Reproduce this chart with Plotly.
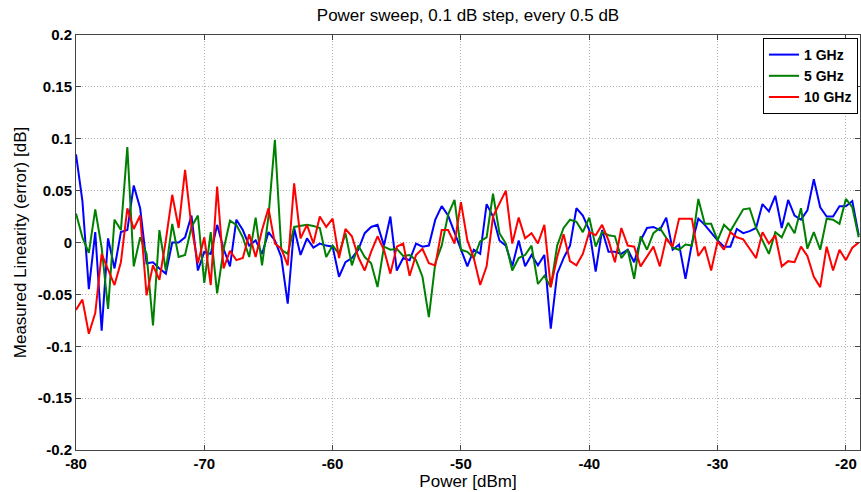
import plotly.graph_objects as go

power = [-80 + 0.5 * i for i in range(123)]

lin_1ghz = [
    0.085, 0.04, -0.045, 0.01, -0.085, 0.004, -0.025, 0.01, 0.012, 0.055,
    0.033, -0.02, -0.019, -0.025, -0.03, 0.0, 0.0, 0.005, 0.026, -0.027,
    -0.009, -0.011, 0.017, -0.006, -0.023, 0.022, 0.012, -0.003, 0.002, -0.011,
    0.01, 0.002, -0.014, -0.059, 0.014, -0.012, 0.004, -0.005, -0.001, -0.003,
    -0.004, -0.033, -0.019, -0.015, -0.007, 0.009, 0.015, 0.017, -0.003, 0.025,
    -0.027, -0.015, -0.017, -0.001, -0.004, -0.003, 0.022, 0.035, 0.026, 0.01,
    -0.007, -0.023, -0.007, -0.011, 0.037, 0.025, 0.002, -0.003, -0.023, 0.002,
    -0.023, -0.012, -0.022, -0.012, -0.083, -0.03, -0.015, -0.003, 0.033, 0.026,
    0.012, -0.028, 0.012, -0.009, -0.009, -0.011, -0.007, -0.019, 0.002, 0.014,
    0.015, 0.012, 0.024, -0.007, -0.002, -0.035, -0.001, 0.023, 0.017, 0.009,
    0.002, -0.004, -0.004, 0.013, 0.009, 0.011, 0.014, 0.037, 0.03, 0.045,
    0.014, 0.041, 0.026, 0.022, 0.031, 0.061, 0.034, 0.025, 0.025, 0.035,
    0.035, 0.04, 0.007,
]

lin_5ghz = [
    0.028, 0.005, -0.01, 0.032, -0.005, -0.064, 0.022, 0.012, 0.092, -0.023,
    0.005, -0.011, -0.08, 0.012, -0.027, 0.018, -0.014, -0.012, 0.015, 0.026,
    -0.039, 0.01, -0.049, -0.007, 0.021, 0.017, 0.005, -0.014, 0.024, -0.022,
    0.025, 0.099, -0.007, -0.011, 0.015, 0.016, 0.017, 0.016, 0.014, -0.014,
    -0.003, -0.011, 0.009, -0.022, -0.003, -0.014, -0.02, -0.043, -0.004, -0.007,
    -0.006, -0.013, -0.012, -0.017, -0.033, -0.072, -0.02, -0.003, 0.027, 0.041,
    -0.007, -0.009, -0.015, 0.001, 0.005, 0.047, 0.009, -0.001, -0.027, -0.015,
    -0.012, -0.003, -0.04, -0.032, -0.043, -0.003, 0.014, 0.022, 0.02, 0.01,
    0.024, -0.004, 0.01, 0.007, 0.006, -0.015, -0.007, -0.035, 0.006, -0.007,
    0.009, 0.014, 0.004, -0.005, -0.007, -0.002, -0.003, 0.042, 0.018, 0.018,
    0.002, 0.017, 0.011, 0.022, 0.032, 0.033, 0.014, 0.002, -0.011, 0.01,
    0.005, 0.019, 0.009, 0.033, -0.006, 0.01, -0.007, 0.023, 0.022, 0.018,
    0.042, 0.034, 0.005,
]

lin_10ghz = [
    -0.065, -0.055, -0.088, -0.068, -0.011, -0.027, -0.041, -0.019, 0.033, 0.013,
    0.026, -0.051, -0.022, -0.036, 0.002, 0.046, 0.014, 0.07, 0.015, -0.02,
    0.005, -0.041, 0.054, -0.025, -0.008, -0.017, -0.015, 0.008, -0.014, 0.012,
    0.033, -0.001, -0.006, -0.022, 0.057, 0.004, 0.017, -0.001, 0.025, 0.015,
    0.023, -0.015, 0.013, 0.006, -0.014, -0.027, -0.009, 0.006, -0.007, -0.03,
    -0.004, -0.001, -0.032, -0.012, -0.006, -0.02, -0.022, 0.012, 0.012, -0.001,
    0.039, 0.002, -0.015, -0.041, -0.023, 0.025, 0.038, 0.05, -0.001, 0.024,
    0.004, 0.009, -0.001, 0.017, -0.043, -0.014, 0.008, -0.018, -0.022, -0.011,
    0.01, 0.007, 0.017, 0.002, -0.019, 0.014, -0.003, -0.004, -0.023, -0.013,
    -0.004, -0.023, 0.004, -0.004, 0.023, 0.023, 0.023, -0.013, -0.004, -0.027,
    0.001, -0.007, 0.01, 0.005, 0.003, -0.006, -0.015, 0.01, -0.001, 0.007,
    -0.023, -0.018, -0.019, -0.004, -0.013, -0.033, -0.043, -0.004, -0.027, -0.007,
    -0.017, -0.005, 0.0,
]

series_names = ["1 GHz", "5 GHz", "10 GHz"]
series_colors = ["#0000ff", "#008000", "#ff0000"]

x_tickvals = [-80, -70, -60, -50, -40, -30, -20]
x_ticktext = ["-80", "-70", "-60", "-50", "-40", "-30", "-20"]
y_tickvals = [0.2, 0.15, 0.1, 0.05, 0, -0.05, -0.1, -0.15, -0.2]
y_ticktext = ["0.2", "0.15", "0.1", "0.05", "0", "-0.05", "-0.1", "-0.15", "-0.2"]

W, H = 861, 492
ML, MR, MT, MB = 76, 1, 35, 42
FONT = "Liberation Sans, Arial, sans-serif"

fig = go.Figure()
for name, ys, col in zip(series_names, [lin_1ghz, lin_5ghz, lin_10ghz], series_colors):
    fig.add_trace(go.Scatter(x=power, y=ys, mode="lines", name=name,
                             line=dict(color=col, width=2)))

tickfont = dict(family=FONT, size=15, color="#000000", weight="bold")
axis_common = dict(
    showline=True, linecolor="#444444", linewidth=1, mirror="ticks",
    ticks="inside", ticklen=5, tickcolor="#444444",
    showgrid=True, gridcolor="#b4b4b4", griddash="1px,2px", gridwidth=1,
    zeroline=False, tickfont=tickfont,
)

fig.update_layout(
    width=W, height=H,
    margin=dict(l=ML, r=MR, t=MT, b=MB),
    paper_bgcolor="white", plot_bgcolor="white",
    font=dict(family=FONT, size=14, color="#000000"),
    title=dict(text="Power sweep, 0.1 dB step, every 0.5 dB",
               x=0.5, xref="paper", y=1 - 15 / H, yref="container",
               yanchor="middle", font=dict(size=17)),
    xaxis=dict(range=[-80, -18.9], tickvals=x_tickvals, ticktext=x_ticktext,
               title=dict(text="Power [dBm]", standoff=0, font=dict(size=17)),
               **axis_common),
    yaxis=dict(range=[-0.2, 0.2], tickvals=y_tickvals, ticktext=y_ticktext,
               title=dict(text="Measured Linearity (error) [dB]", standoff=6,
                          font=dict(size=17)),
               **axis_common),
    legend=dict(x=1 - 2 / (W - ML - MR), y=1 - 3 / (H - MT - MB),
                xanchor="right", yanchor="top",
                bgcolor="white", bordercolor="#000000", borderwidth=1,
                font=dict(size=14, weight="bold"),
                tracegroupgap=0, itemwidth=30),
    showlegend=True,
)

fig.write_html("out.html")
